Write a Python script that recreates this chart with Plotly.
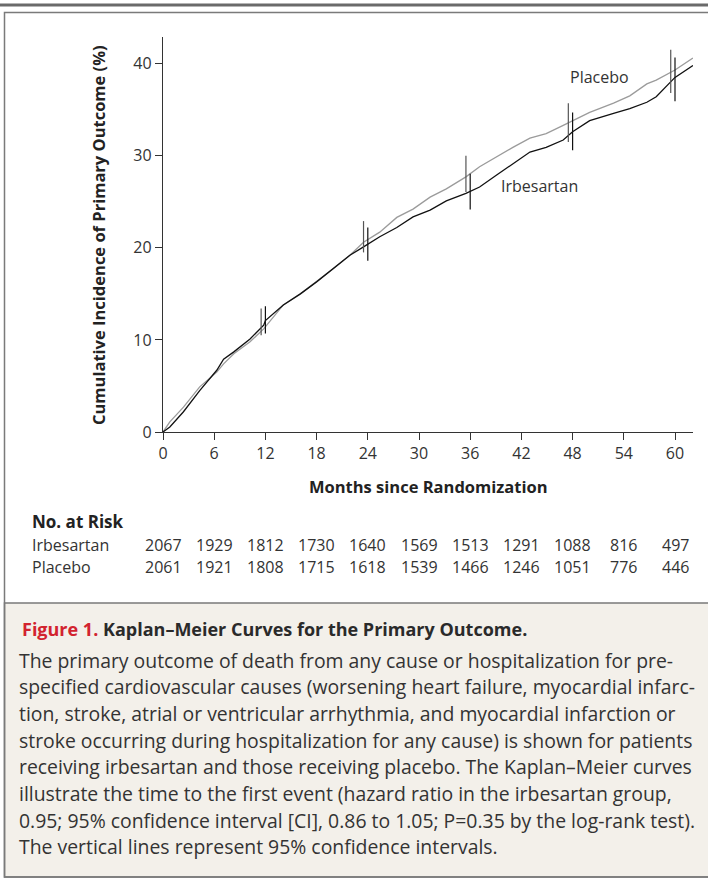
import plotly.graph_objects as go

# ---------------- data ----------------
irb_months = [0, 0.8, 2.4, 4.3, 6.3, 7.1, 8.3, 10.2, 11.8, 12.0, 14.1, 16.1, 18.0, 19.9, 21.9, 23.5,
              25.4, 27.4, 29.3, 31.3, 33.2, 35.5, 37.1, 39.1, 41.0, 43.0, 44.9, 46.9, 48.0, 50.0,
              52.8, 54.7, 56.7, 57.8, 60.0, 62.1]
irb_values = [0, 0.55, 2.2, 4.5, 6.7, 7.9, 8.7, 10.1, 11.6, 12.1, 13.8, 15.0, 16.3, 17.7, 19.2, 20.1,
              21.2, 22.2, 23.35, 24.1, 25.1, 25.9, 26.6, 27.9, 29.1, 30.4, 30.9, 31.7, 32.6, 33.8,
              34.6, 35.1, 35.8, 36.4, 38.5, 39.8]

plac_months = [0, 0.8, 2.4, 4.3, 6.3, 7.1, 8.3, 10.2, 11.8, 14.1, 16.1, 18.0, 19.9, 21.9, 23.5,
               25.4, 27.4, 29.3, 31.3, 33.2, 35.5, 37.1, 39.1, 41.0, 43.0, 44.9, 46.9, 48.0, 50.0,
               52.8, 54.7, 56.7, 57.8, 60.0, 62.1]
plac_values = [0, 1.1, 2.7, 4.9, 6.5, 7.4, 8.5, 9.8, 11.2, 13.8, 15.0, 16.3, 17.7, 19.2, 20.6,
               21.7, 23.3, 24.2, 25.5, 26.4, 27.7, 28.8, 29.9, 30.9, 31.9, 32.4, 33.3, 33.8, 34.7,
               35.7, 36.5, 37.8, 38.2, 39.3, 40.6]

irb_ci_months = [12, 24, 36, 48, 60]
irb_ci_low = [10.7, 18.6, 24.15, 30.6, 35.9]
irb_ci_high = [13.65, 22.2, 28.05, 34.7, 40.65]

plac_ci_months = [11.5, 23.5, 35.5, 47.5, 59.5]
plac_ci_low = [10.5, 19.5, 26.06, 31.5, 36.8]
plac_ci_high = [13.4, 22.9, 30.0, 35.7, 41.5]

risk_months = [0, 6, 12, 18, 24, 30, 36, 42, 48, 54, 60]
risk_irb = [2067, 1929, 1812, 1730, 1640, 1569, 1513, 1291, 1088, 816, 497]
risk_plac = [2061, 1921, 1808, 1715, 1618, 1539, 1466, 1246, 1051, 776, 446]

x_ticks = [0, 6, 12, 18, 24, 30, 36, 42, 48, 54, 60]
y_ticks = [0, 10, 20, 30, 40]

caption_title_red = "Figure 1."
caption_title = "Kaplan\u2013Meier Curves for the Primary Outcome."
caption_lines = [
    "The primary outcome of death from any cause or hospitalization for pre-",
    "specified cardiovascular causes (worsening heart failure, myocardial infarc-",
    "tion, stroke, atrial or ventricular arrhythmia, and myocardial infarction or",
    "stroke occurring during hospitalization for any cause) is shown for patients",
    "receiving irbesartan and those receiving placebo. The Kaplan\u2013Meier curves",
    "illustrate the time to the first event (hazard ratio in the irbesartan group,",
    "0.95; 95% confidence interval [CI], 0.86 to 1.05; P=0.35 by the log-rank test).",
    "The vertical lines represent 95% confidence intervals.",
]

# ---------------- layout geometry (pixels) ----------------
W, H = 708, 879
L, R_ = 163, 693
T, B = 37, 432
pw, ph = R_ - L, B - T


def px(x):
    return (x - L) / pw


def py(y):
    return (B - y) / ph


FONT = "Open Sans"
DARK = "#333333"

fig = go.Figure()

fig.add_trace(go.Scatter(x=plac_months, y=plac_values, mode="lines",
                         line=dict(color="#9b9b9b", width=1.3), showlegend=False, hoverinfo="skip"))
fig.add_trace(go.Scatter(x=irb_months, y=irb_values, mode="lines",
                         line=dict(color="#111111", width=1.3), showlegend=False, hoverinfo="skip"))


def ci_xy(ms, lo, hi):
    xs, ys = [], []
    for m, a, b in zip(ms, lo, hi):
        xs += [m, m, None]
        ys += [a, b, None]
    return xs, ys


cx, cy = ci_xy(plac_ci_months, plac_ci_low, plac_ci_high)
fig.add_trace(go.Scatter(x=cx, y=cy, mode="lines", line=dict(color="#555555", width=1.2),
                         showlegend=False, hoverinfo="skip"))
cx, cy = ci_xy(irb_ci_months, irb_ci_low, irb_ci_high)
fig.add_trace(go.Scatter(x=cx, y=cy, mode="lines", line=dict(color="#111111", width=1.2),
                         showlegend=False, hoverinfo="skip"))

x_max = pw / (51.2 / 6)
y_max = ph / 9.21

fig.update_xaxes(range=[0, x_max], tickvals=x_ticks, ticks="outside", ticklen=7, tickwidth=1.2,
                 tickcolor=DARK, showline=True, linecolor=DARK, linewidth=1.3, showgrid=False,
                 zeroline=False, tickfont=dict(family=FONT, size=16, color=DARK))
fig.update_yaxes(range=[0, y_max], tickvals=y_ticks, ticks="outside", ticklen=7, tickwidth=1.2,
                 tickcolor=DARK, showline=True, linecolor=DARK, linewidth=1.3, showgrid=False,
                 zeroline=False, tickfont=dict(family=FONT, size=16, color=DARK))

shapes = []
# top thick rule
shapes.append(dict(type="line", xref="paper", yref="paper", x0=px(0), x1=px(W), y0=py(5), y1=py(5),
                   line=dict(color="#6a6a6a", width=3)))
# outer frame
shapes.append(dict(type="rect", xref="paper", yref="paper", x0=px(4.5), x1=px(W + 5), y0=py(12.5), y1=py(877),
                   line=dict(color="#7a7a7a", width=1.5), fillcolor="rgba(0,0,0,0)"))
# caption box
shapes.append(dict(type="rect", xref="paper", yref="paper", x0=px(4.5), x1=px(W + 5), y0=py(603), y1=py(877),
                   line=dict(color="#7a7a7a", width=1.5), fillcolor="#F3F0EA", layer="below"))

ann = []
# axis titles
ann.append(dict(text="<b>Cumulative Incidence of Primary Outcome (%)</b>", xref="paper", yref="paper",
                x=px(98), y=py(235), textangle=-90, showarrow=False,
                font=dict(family=FONT, size=16.5, color="#222222"), xanchor="center", yanchor="middle"))
ann.append(dict(text="<b>Months since Randomization</b>", xref="paper", yref="paper",
                x=px(428), y=py(486.5), showarrow=False,
                font=dict(family=FONT, size=16.5, color="#222222"), xanchor="center", yanchor="middle"))
# curve labels
ann.append(dict(text="Placebo", xref="paper", yref="paper", x=px(599), y=py(77), showarrow=False,
                font=dict(family=FONT, size=16, color=DARK), xanchor="center", yanchor="middle"))
ann.append(dict(text="Irbesartan", xref="paper", yref="paper", x=px(539), y=py(186), showarrow=False,
                font=dict(family=FONT, size=16, color=DARK), xanchor="center", yanchor="middle"))
# number at risk
ann.append(dict(text="<b>No. at Risk</b>", xref="paper", yref="paper", x=px(30), y=py(521.5), showarrow=False,
                font=dict(family=FONT, size=17, color="#222222"), xanchor="left", yanchor="middle"))
ann.append(dict(text="Irbesartan", xref="paper", yref="paper", x=px(30), y=py(545), showarrow=False,
                font=dict(family=FONT, size=16, color=DARK), xanchor="left", yanchor="middle"))
ann.append(dict(text="Placebo", xref="paper", yref="paper", x=px(30), y=py(566.5), showarrow=False,
                font=dict(family=FONT, size=16, color=DARK), xanchor="left", yanchor="middle"))
for m, a, b in zip(risk_months, risk_irb, risk_plac):
    ann.append(dict(text=str(a), xref="x", yref="paper", x=m, y=py(545), showarrow=False,
                    font=dict(family=FONT, size=16, color=DARK), xanchor="center", yanchor="middle"))
    ann.append(dict(text=str(b), xref="x", yref="paper", x=m, y=py(566.5), showarrow=False,
                    font=dict(family=FONT, size=16, color=DARK), xanchor="center", yanchor="middle"))
# caption
ann.append(dict(text=f"<span style='color:#D2232F'><b>{caption_title_red}</b></span> <b>{caption_title}</b>",
                xref="paper", yref="paper", x=px(20), y=py(628.5), showarrow=False,
                font=dict(family=FONT, size=18, color="#2a2a2a"), xanchor="left", yanchor="middle"))
for i, line in enumerate(caption_lines):
    ann.append(dict(text=line, xref="paper", yref="paper", x=px(16.5),
                    y=py(660 + i * 26.7), showarrow=False, align="left",
                    font=dict(family=FONT, size=19.4, color="#333333"), xanchor="left", yanchor="middle"))

fig.update_layout(width=W, height=H, margin=dict(l=L, r=W - R_, t=T, b=H - B),
                  paper_bgcolor="white", plot_bgcolor="white", shapes=shapes, annotations=ann,
                  showlegend=False)

fig.write_html("out.html", config={"displayModeBar": False},
               post_script="document.body.style.margin='0px';")
